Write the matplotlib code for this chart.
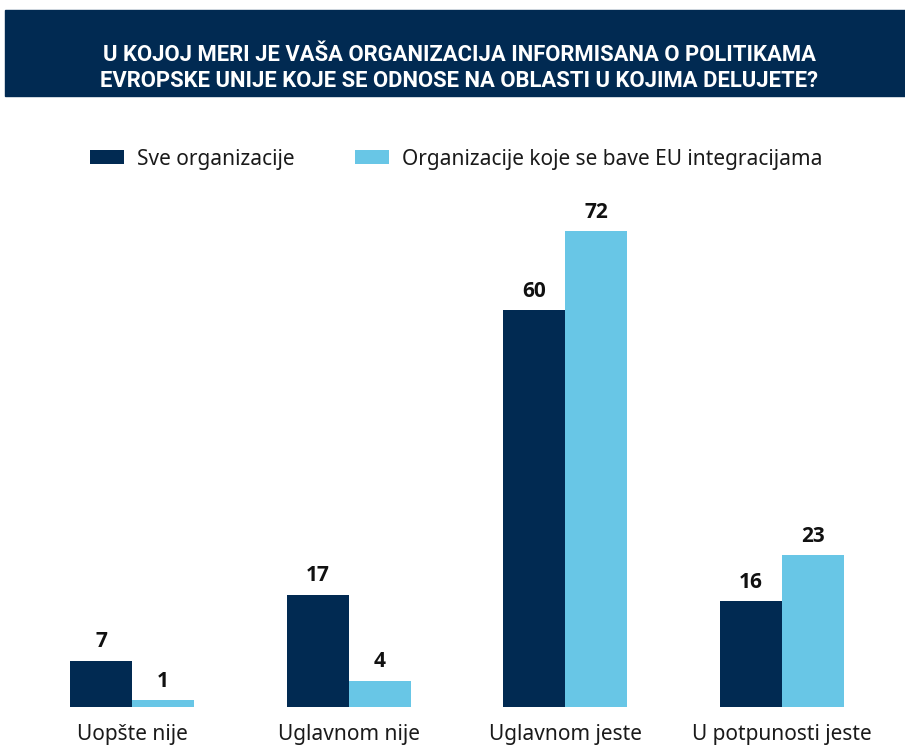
import matplotlib
matplotlib.use('Agg')
from matplotlib import pyplot as plt
from matplotlib.patches import Rectangle
import numpy as np

categories = ['Uopšte nije', 'Uglavnom nije', 'Uglavnom jeste', 'U potpunosti jeste']
sve_org = [7, 17, 60, 16]
eu_org = [1, 4, 72, 23]
series_names = ['Sve organizacije', 'Organizacije koje se bave EU integracijama']
title = ('U KOJOJ MERI JE VAŠA ORGANIZACIJA INFORMISANA O POLITIKAMA\n'
         'EVROPSKE UNIJE KOJE SE ODNOSE NA OBLASTI U KOJIMA DELUJETE?')

dark = '#012a52'
light = '#68c6e6'

plt.rcParams['font.family'] = ['Noto Sans', 'DejaVu Sans']

W, H = 905, 746
fig = plt.figure(figsize=(W / 100, H / 100), dpi=100)

# title banner
fig.patches.append(Rectangle((5 / W, 1 - 96 / H), 1 - 5 / W, 86 / H,
                             transform=fig.transFigure, color=dark, zorder=0))
fig.text(459 / W, 1 - 68 / H, title, ha='center', va='center', color='white',
         fontsize=15.8, fontweight='bold', family='Roboto', linespacing=1.2)

# axes: x from 24 to 890 px, baseline at 707 px
ax = fig.add_axes([24 / W, 39 / H, 866 / W, (707 - 200) / H])
x = np.arange(len(categories))
w = 0.286
b1 = ax.bar(x - w / 2, sve_org, w, color=dark, label=series_names[0])
b2 = ax.bar(x + w / 2, eu_org, w, color=light, label=series_names[1])
ax.set_xlim(-0.5, 3.5)
ax.set_ylim(0, (707 - 200) / 6.61)

for bars in (b1, b2):
    for r in bars:
        ax.annotate(f'{int(r.get_height())}', (r.get_x() + r.get_width() / 2, r.get_height()),
                    xytext=(0, 6), textcoords='offset points', ha='center', va='bottom',
                    fontsize=15, fontweight='bold', family='Open Sans', color='#111111')

ax.set_xticks(x)
ax.set_xticklabels(categories, fontsize=15, color='#1a1a1a')
ax.tick_params(axis='x', length=0, pad=12)
ax.set_yticks([])
for s in ax.spines.values():
    s.set_visible(False)

leg = fig.legend(handles=[b1, b2], loc='center left', bbox_to_anchor=(71 / W, 1 - 159 / H),
                 ncol=2, frameon=False, fontsize=15, handlelength=1.65, handleheight=0.65,
                 columnspacing=2.9, handletextpad=0.6)
for t in leg.get_texts():
    t.set_color('#1a1a1a')

fig.savefig('out.png', dpi=100)
